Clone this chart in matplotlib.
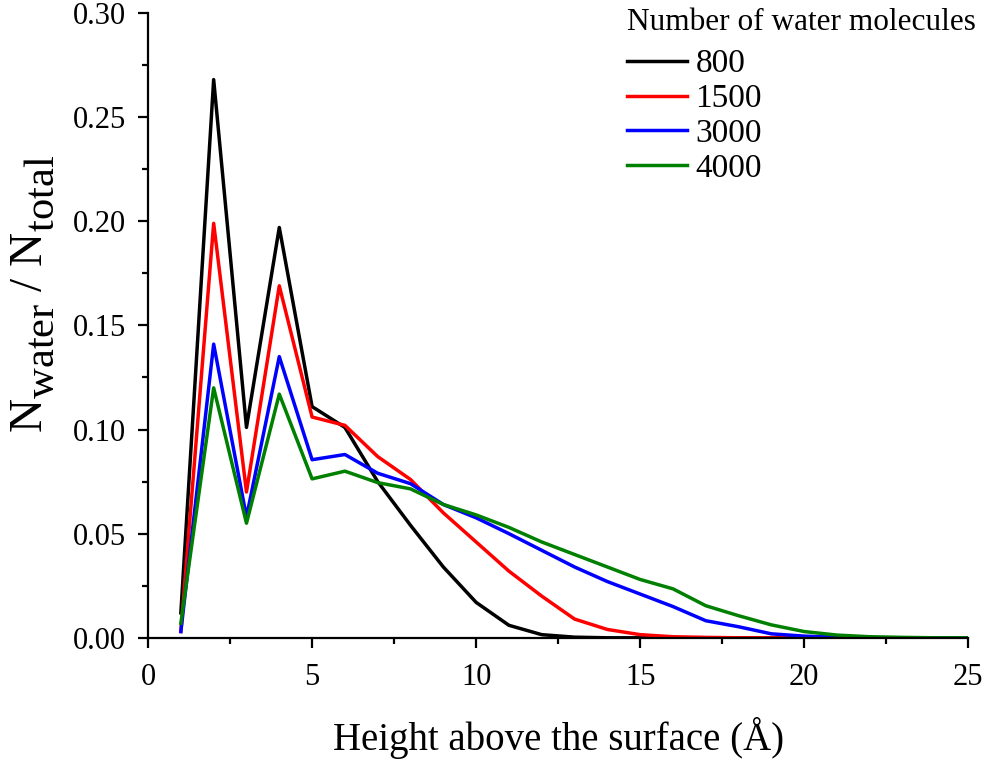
import matplotlib
matplotlib.use("Agg")
import matplotlib.pyplot as plt
from matplotlib.ticker import MultipleLocator, FormatStrFormatter

# height above surface (A)
height = list(range(1, 26))

n800 = [0.012, 0.268, 0.101, 0.197, 0.111, 0.101, 0.075, 0.054, 0.034, 0.017,
        0.006, 0.0015, 0.0003, 0, 0, 0, 0, 0, 0, 0, 0, 0, 0, 0, 0]
n1500 = [0.003, 0.199, 0.070, 0.169, 0.106, 0.102, 0.087, 0.076, 0.060, 0.046,
         0.032, 0.020, 0.009, 0.004, 0.0015, 0.0005, 0.0002, 0, 0, 0, 0, 0, 0, 0, 0]
n3000 = [0.003, 0.141, 0.058, 0.135, 0.0855, 0.088, 0.079, 0.074, 0.064, 0.0576,
         0.050, 0.042, 0.034, 0.027, 0.021, 0.015, 0.0082, 0.0053, 0.0019, 0.0008,
         0.0003, 0.0001, 0, 0, 0]
n4000 = [0.007, 0.120, 0.055, 0.117, 0.0763, 0.080, 0.0745, 0.0715, 0.064, 0.059,
         0.053, 0.046, 0.040, 0.034, 0.028, 0.0235, 0.0154, 0.0106, 0.0062, 0.003,
         0.0013, 0.0005, 0.0002, 0, 0]

labels = ["800", "1500", "3000", "4000"]
colors = ["black", "red", "blue", "green"]

plt.rcParams["font.family"] = ["Liberation Serif", "DejaVu Serif"]
plt.rcParams["mathtext.fontset"] = "custom"
plt.rcParams["mathtext.rm"] = "Liberation Serif"
plt.rcParams["mathtext.it"] = "Liberation Serif:italic"

# subscripts in the y label are nearly full size and sit lower in the original
import matplotlib._mathtext as _mt
if hasattr(_mt, "SHRINK_FACTOR"):
    _mt.SHRINK_FACTOR = 0.9
if hasattr(_mt, "FontConstantsBase"):
    _mt.FontConstantsBase.sub1 = 0.6

fig = plt.figure(figsize=(9.87, 7.62), dpi=100)
ax = fig.add_axes([0.15, 0.163, 0.831, 0.82])

for ys, lab, c in zip([n800, n1500, n3000, n4000], labels, colors):
    ax.plot(height, ys, color=c, lw=2.5, label=lab)

ax.set_xlim(0, 25)
ax.set_ylim(0, 0.30)
ax.xaxis.set_major_locator(MultipleLocator(5))
ax.xaxis.set_minor_locator(MultipleLocator(2.5))
ax.yaxis.set_major_locator(MultipleLocator(0.05))
ax.yaxis.set_minor_locator(MultipleLocator(0.025))
ax.yaxis.set_major_formatter(FormatStrFormatter("%.2f"))

for side in ["top", "right"]:
    ax.spines[side].set_visible(False)
for side in ["left", "bottom"]:
    ax.spines[side].set_linewidth(1.6)
ax.tick_params(which="major", direction="out", length=7, width=1.6, labelsize=22)
ax.tick_params(axis="x", which="major", pad=11)
ax.tick_params(axis="y", which="major", pad=9)
ax.tick_params(which="minor", direction="out", length=4.5, width=1.6)

ax.set_xlabel("Height above the surface (\u00c5)", fontsize=28)
ax.xaxis.set_label_coords(0.5, -0.127)
ax.set_ylabel(r"N$_{\mathrm{water}}$ / N$_{\mathrm{total}}$", fontsize=34)
ax.yaxis.set_label_coords(-0.111, 0.55)

# legend title drawn separately so the gap above the entries can be matched
fig.text(627 / 987, 1 - 22 / 762, "Number of water molecules", fontsize=22.5,
         ha="left", va="center")
leg = ax.legend(loc="upper left", frameon=False,
                fontsize=24, handlelength=1.8, handletextpad=0.25,
                labelspacing=0.13, borderpad=0.0, borderaxespad=0.0,
                bbox_to_anchor=(627 / 987, 1 - 49 / 762), bbox_transform=fig.transFigure)

fig.savefig("out.png", dpi=100)
